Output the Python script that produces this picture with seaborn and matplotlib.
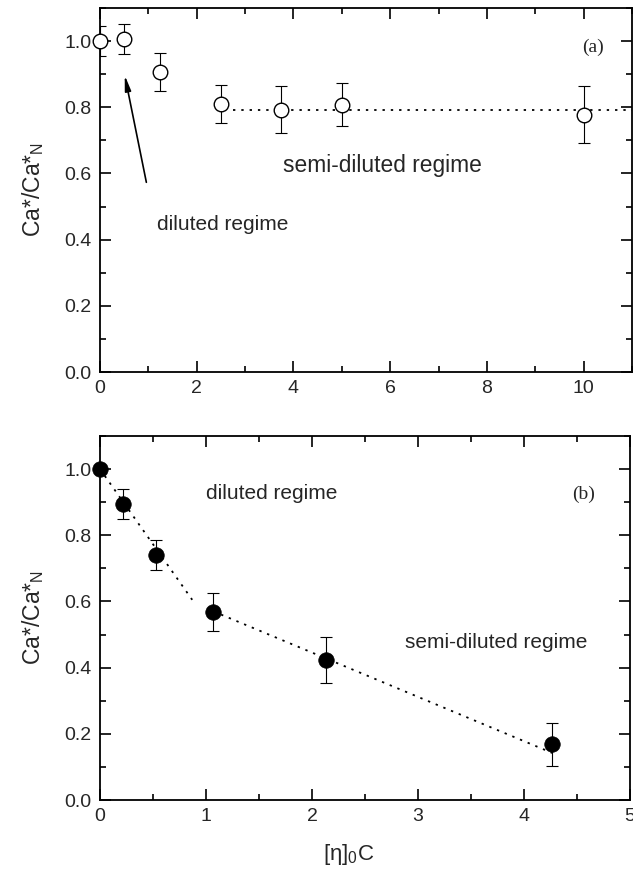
import matplotlib
matplotlib.use("Agg")
import matplotlib.pyplot as plt
import seaborn as sns
import pandas as pd
import numpy as np

# ---- data (a) ----
xa = [0.0, 0.5, 1.25, 2.5, 3.75, 5.0, 10.0]
ya = [1.0, 1.006, 0.907, 0.81, 0.793, 0.807, 0.778]
ea = [0.046, 0.045, 0.058, 0.057, 0.072, 0.065, 0.085]
fit_a_x = [2.75, 11.0]
fit_a_y = [0.793, 0.793]

# ---- data (b) ----
xb = [0.0, 0.213, 0.533, 1.067, 2.133, 4.267]
yb = [1.0, 0.894, 0.740, 0.569, 0.423, 0.169]
eb = [0.0, 0.045, 0.045, 0.057, 0.070, 0.065]
fit_b1_x = [0.0, 0.87]
fit_b1_y = [1.0, 0.605]
fit_b2_x = [1.07, 4.32]
fit_b2_y = [0.57, 0.135]

sns.set_style("ticks")
plt.rcParams['font.family'] = ['Liberation Sans', 'DejaVu Sans']
plt.rcParams['mathtext.fontset'] = 'custom'
plt.rcParams['mathtext.rm'] = 'Liberation Sans'
plt.rcParams['mathtext.it'] = 'Liberation Sans:italic'

W, H = 633, 872
fig = plt.figure(figsize=(W/100, H/100), dpi=100)
ax1 = fig.add_axes([100/W, 1-372/H, 532/W, 364/H])
ax2 = fig.add_axes([100/W, 1-800/H, 530/W, 364/H])

dot = (0, (1.3, 3.3))

def style(ax, xmax, xmaj, xmin):
    ax.set_ylim(0, 1.1)
    ax.set_xlim(0, xmax)
    ax.set_xticks(np.arange(0, xmax + 0.01, xmaj))
    ax.set_xticks(np.arange(0, xmax + 0.01, xmin), minor=True)
    ax.set_yticks([0.0, 0.2, 0.4, 0.6, 0.8, 1.0])
    ax.set_yticks(np.arange(0, 1.11, 0.1), minor=True)
    ax.yaxis.set_major_formatter(matplotlib.ticker.FormatStrFormatter('%.1f'))
    ax.tick_params(which='both', direction='in', top=True, right=True,
                   labelsize=14, width=1.2, color='black')
    ax.tick_params(which='major', length=8, pad=6)
    ax.tick_params(which='minor', length=4)
    for s in ax.spines.values():
        s.set_linewidth(1.3)
        s.set_color('black')
    ax.set_ylabel("Ca*/Ca*$_\\mathregular{N}$", fontsize=16.5, labelpad=13)

# ---- panel (a) ----
dfa = pd.DataFrame({"x": xa, "y": ya})
ax1.errorbar(xa, ya, yerr=ea, fmt='none', ecolor='black', elinewidth=0.8,
             capsize=4, capthick=0.8, zorder=2)
sns.lineplot(x=fit_a_x, y=fit_a_y, ax=ax1, color='black', linestyle=dot,
             linewidth=1.3, zorder=1)
sns.scatterplot(data=dfa, x="x", y="y", ax=ax1, marker='o', s=110,
                facecolor='white', edgecolor='black', linewidth=1.0, zorder=3,
                clip_on=False)
style(ax1, 11, 2, 1)
ax1.set_xlabel("")
ax1.text(10.2, 0.982, "(a)", fontsize=14, family='Liberation Serif',
         ha='center', va='center')
ax1.text(5.83, 0.625, "semi-diluted regime", fontsize=16.4, ha='center', va='center')
ax1.text(2.54, 0.447, "diluted regime", fontsize=15, ha='center', va='center')
ax1.annotate("", xy=(0.5, 0.905), xytext=(0.97, 0.565),
             arrowprops=dict(arrowstyle='-|>,head_length=0.9,head_width=0.18',
                             color='black', lw=1.2))

# ---- panel (b) ----
dfb = pd.DataFrame({"x": xb, "y": yb})
ax2.errorbar(xb, yb, yerr=eb, fmt='none', ecolor='black', elinewidth=0.8,
             capsize=4, capthick=0.8, zorder=2)
sns.lineplot(x=fit_b1_x, y=fit_b1_y, ax=ax2, color='black', linestyle=dot,
             linewidth=1.3, zorder=1)
sns.lineplot(x=fit_b2_x, y=fit_b2_y, ax=ax2, color='black', linestyle=dot,
             linewidth=1.3, zorder=1)
sns.scatterplot(data=dfb, x="x", y="y", ax=ax2, marker='o', s=125,
                color='black', edgecolor='black', linewidth=0.5, zorder=3,
                clip_on=False)
style(ax2, 5, 1, 0.5)
ax2.set_xlabel("[η]$_\\mathregular{0}$C", fontsize=16)
ax2.xaxis.set_label_coords(0.47, -0.115)
ax2.text(4.56, 0.924, "(b)", fontsize=14, family='Liberation Serif',
         ha='center', va='center')
ax2.text(3.74, 0.477, "semi-diluted regime", fontsize=15, ha='center', va='center')
ax2.text(1.62, 0.927, "diluted regime", fontsize=15, ha='center', va='center')

fig.savefig("out.png", dpi=100)
